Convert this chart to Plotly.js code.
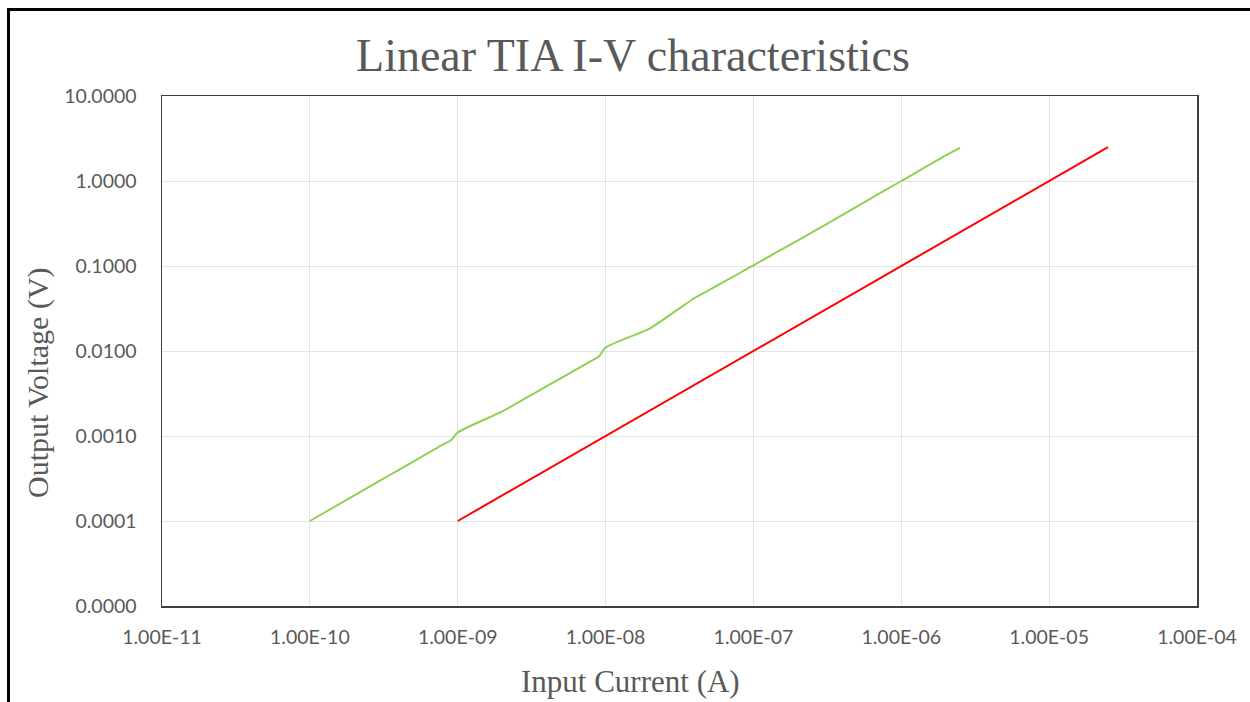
<!DOCTYPE html>
<html>
<head>
<meta charset="utf-8">
<script src="https://cdn.plot.ly/plotly-3.0.1.min.js"></script>
<style>
html,body{margin:0;padding:0;overflow:hidden;background:#fff;}
#chart{width:1250px;height:702px;}
#frame{position:absolute;left:7px;top:8px;width:1400px;height:900px;border:3px solid #000;pointer-events:none;z-index:10;}
</style>
</head>
<body>
<div id="chart"></div>
<div id="frame"></div>
<script>
// Data
const greenCurrent = [1e-10,2e-10,3e-10,4e-10,5e-10,6e-10,7e-10,8e-10,9e-10,
  1e-9,2e-9,3e-9,4e-9,5e-9,6e-9,7e-9,8e-9,9e-9,
  1e-8,2e-8,3e-8,4e-8,5e-8,6e-8,7e-8,8e-8,9e-8,
  1e-7,2e-7,5e-7,1e-6,2e-6,2.5e-6];
const greenVoltage = [1.0e-4,2.0e-4,3.0e-4,4.0e-4,5.0e-4,6.0e-4,7.0e-4,8.0e-4,8.9e-4,
  1.1e-3,1.95e-3,2.9e-3,3.85e-3,4.8e-3,5.75e-3,6.7e-3,7.65e-3,8.6e-3,
  1.1e-2,1.85e-2,2.98e-2,4.2e-2,5.2e-2,6.2e-2,7.2e-2,8.2e-2,9.2e-2,
  0.102,0.2,0.5,1.0,2.0,2.45];
const redCurrent = [1e-9,1e-8,1e-7,1e-6,1e-5,2.5e-5];
const redVoltage = [1e-4,1e-3,1e-2,0.1,1.0,2.5];

const xTickVals = [1e-11,1e-10,1e-9,1e-8,1e-7,1e-6,1e-5,1e-4];
const xTickText = ["1.00E-11","1.00E-10","1.00E-09","1.00E-08","1.00E-07","1.00E-06","1.00E-05","1.00E-04"];
const yTickVals = [1e-5,1e-4,1e-3,1e-2,1e-1,1,10];
const yTickText = ["0.0000","0.0001","0.0010","0.0100","0.1000","1.0000","10.0000"];

const tickFont = {family:"Lato, 'Open Sans', sans-serif", size:19.5, color:"#595959"};
const serif = "'Liberation Serif', 'Times New Roman', serif";

const traces = [
  {x:greenCurrent, y:greenVoltage, type:"scatter", mode:"lines",
   line:{color:"#92D050", width:2, shape:"spline", smoothing:0.6}, showlegend:false, hoverinfo:"x+y"},
  {x:redCurrent, y:redVoltage, type:"scatter", mode:"lines",
   line:{color:"#FF0000", width:2}, showlegend:false, hoverinfo:"x+y"}
];

const layout = {
  width:1250, height:702,
  margin:{l:162, r:53, t:96, b:96, pad:0},
  paper_bgcolor:"#ffffff", plot_bgcolor:"#ffffff",
  title:{text:"Linear TIA I-V characteristics", font:{family:serif, size:46, color:"#595959"},
         xref:"container", x:0.5064, xanchor:"center", yref:"container", y:1-55/702, yanchor:"middle"},
  xaxis:{type:"log", range:[-11,-4], tickvals:xTickVals, ticktext:xTickText,
         tickfont:tickFont, showgrid:true, gridcolor:"#e4e4e4", gridwidth:1,
         showline:true, linecolor:"#404040", linewidth:1.5, mirror:true,
         ticks:"", ticklabelstandoff:13, zeroline:false},
  yaxis:{type:"log", range:[-5,1], tickvals:yTickVals, ticktext:yTickText,
         tickfont:tickFont, showgrid:true, gridcolor:"#e4e4e4", gridwidth:1,
         showline:true, linecolor:"#404040", linewidth:1.5, mirror:true,
         ticks:"", ticklabelstandoff:20, zeroline:false},
  annotations:[
    {text:"Input Current (A)", xref:"paper", yref:"paper", x:(630-162)/1035, y:(606-681)/510,
     xanchor:"center", yanchor:"middle", showarrow:false, font:{family:serif, size:31, color:"#595959"}},
    {text:"Output Voltage (V)", xref:"paper", yref:"paper", x:(38-162)/1035, y:(606-383)/510,
     xanchor:"center", yanchor:"middle", textangle:-90, showarrow:false, font:{family:serif, size:30, color:"#595959"}}
  ]
};

Plotly.newPlot("chart", traces, layout, {displayModeBar:false, staticPlot:true});
</script>
</body>
</html>
